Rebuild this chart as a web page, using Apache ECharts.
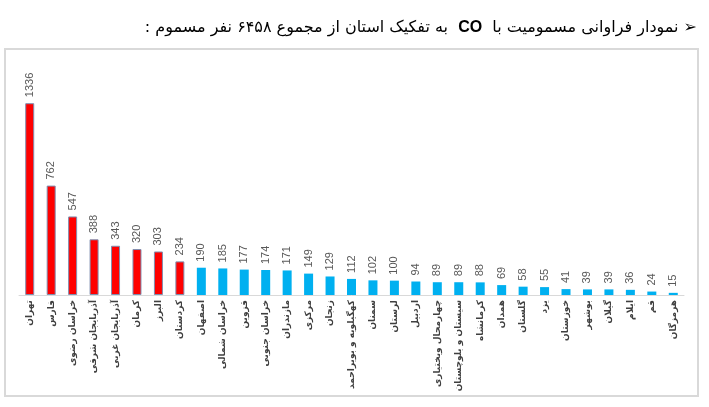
<!DOCTYPE html>
<html>
<head>
<meta charset="utf-8">
<script src="https://cdn.jsdelivr.net/npm/echarts@6/dist/echarts.min.js"></script>
<style>
  html, body { margin: 0; padding: 0; background: #fff; }
  #chart { width: 709px; height: 407px; }
</style>
</head>
<body>
<div id="chart"></div>
<script>
// provinces, ordered as in the picture (left to right)
var provinces = [
  'تهران', 'فارس', 'خراسان رضوی', 'آذربایجان شرقی', 'آذربایجان غربی', 'کرمان', 'البرز', 'کردستان',
  'اصفهان', 'خراسان شمالی', 'قزوین', 'خراسان جنوبی', 'مازندران', 'مرکزی', 'زنجان',
  'کهگیلویه و بویراحمد', 'سمنان', 'لرستان', 'اردبیل', 'چهارمحال وبختیاری', 'سیستان و بلوچستان',
  'کرمانشاه', 'همدان', 'گلستان', 'یزد', 'خوزستان', 'بوشهر', 'گیلان', 'ایلام', 'قم', 'هرمزگان'
];
var cases = [
  1336, 762, 547, 388, 343, 320, 303, 234,
  190, 185, 177, 174, 171, 149, 129, 112, 102, 100, 94, 89, 89,
  88, 69, 58, 55, 41, 39, 39, 36, 24, 15
];
var redCount = 8; // first provinces drawn in red

// title pieces, in visual order from left to right
var titleEnd = 'به تفکیک استان از مجموع ۶۴۵۸ نفر مسموم :';
var titleStart = 'نمودار فراوانی مسمومیت با';

function rtl(s) { return '\u202B' + s + '\u202C'; }

var chart = echarts.init(document.getElementById('chart'));

var option = {
  animation: false,
  backgroundColor: '#fff',
  graphic: [
    {
      type: 'rect',
      shape: { x: 5, y: 49, width: 693, height: 347 },
      style: { fill: 'none', stroke: '#d9d9d9', lineWidth: 2 },
      silent: true
    },
    {
      type: 'text',
      right: 12,
      top: 20,
      style: {
        text: '{a|' + rtl(titleEnd) + '}{a|  }{b|CO}{a|  }{a|' + rtl(titleStart) + '}{a| }{c|➢}',
        rich: {
          a: { fontFamily: 'DejaVu Sans', fontSize: 16, fill: '#000' },
          b: { fontFamily: 'Liberation Sans', fontSize: 16, fontWeight: 'bold', fill: '#000' },
          c: { fontFamily: 'DejaVu Sans', fontSize: 16, fontWeight: 'bold', fill: '#000' }
        }
      }
    }
  ],
  grid: { left: 19, right: 25, top: 94, bottom: 112, containLabel: false },
  xAxis: {
    type: 'category',
    data: provinces,
    axisLine: { lineStyle: { color: '#d9d9d9', width: 1 } },
    axisTick: { show: false },
    axisLabel: {
      interval: 0,
      rotate: 90,
      margin: 5,
      fontFamily: 'DejaVu Sans',
      fontSize: 9,
      fontWeight: 'bold',
      color: '#404040'
    }
  },
  yAxis: {
    type: 'value',
    min: 0,
    max: 1400,
    show: false,
    splitLine: { show: false }
  },
  series: [{
    type: 'bar',
    barWidth: 9,
    data: cases.map(function (v, i) {
      return {
        value: v,
        itemStyle: i < redCount
          ? { color: '#ff0000', borderColor: '#7f8fb0', borderWidth: 1 }
          : { color: '#00b0f0' }
      };
    }),
    label: {
      show: true,
      position: 'top',
      rotate: 90,
      align: 'left',
      verticalAlign: 'middle',
      distance: 6,
      fontFamily: 'Liberation Sans',
      fontSize: 11,
      color: '#595959'
    }
  }]
};

chart.setOption(option);
</script>
</body>
</html>
